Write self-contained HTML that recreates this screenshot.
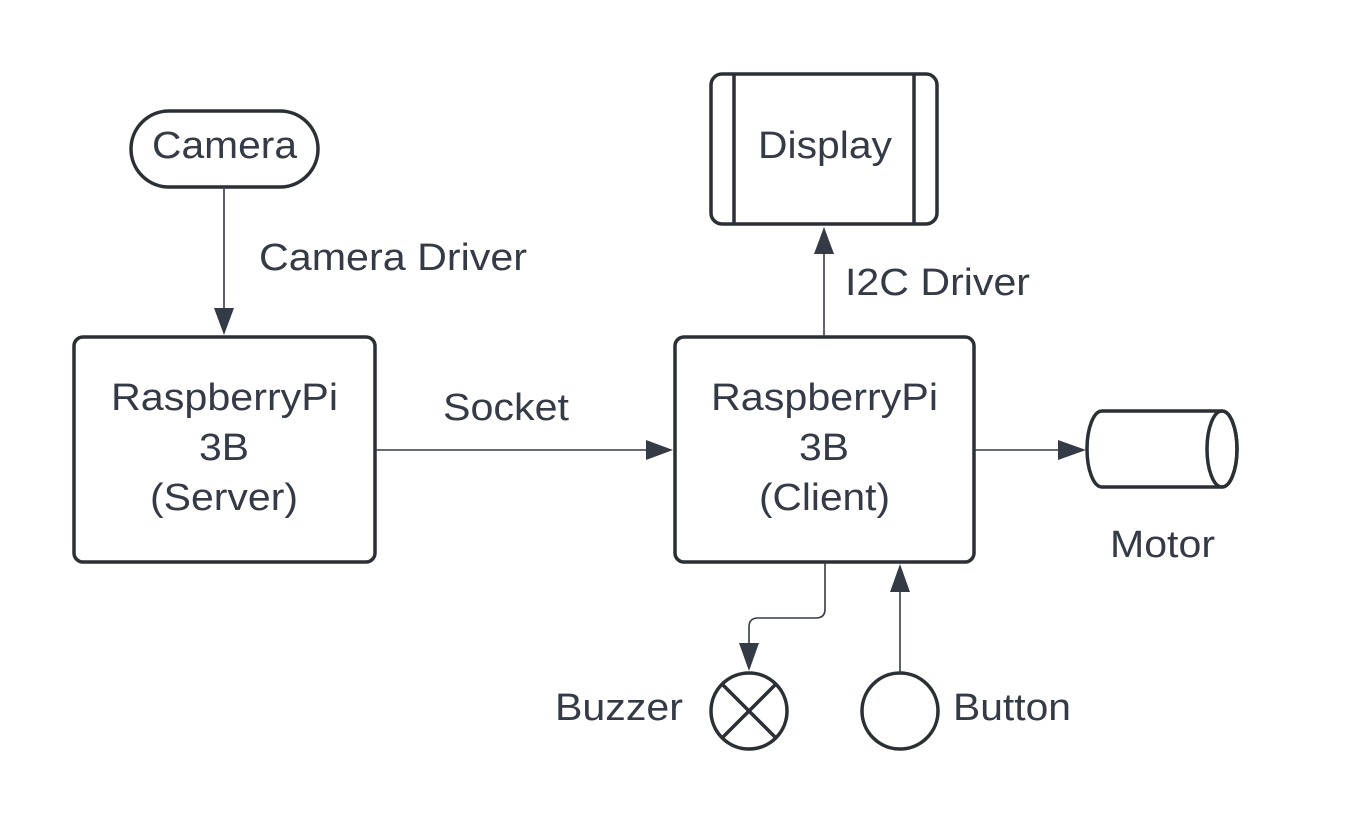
<!DOCTYPE html>
<html><head><meta charset="utf-8"><style>
html,body{margin:0;padding:0;background:#fff;}
svg{display:block;}
text{font-family:"Liberation Sans",sans-serif;font-size:38px;fill:#343a46;}
</style></head><body>
<svg width="1369" height="825" viewBox="0 0 1369 825" xmlns="http://www.w3.org/2000/svg">
<g fill="none" stroke="#2b2f36" stroke-width="3.5">
<rect x="131" y="111" width="187" height="76" rx="38"/>
<rect x="74" y="337" width="301" height="225" rx="9"/>
<rect x="675" y="337" width="299" height="225" rx="9"/>
<rect x="711" y="74" width="226" height="150" rx="11"/>
<line x1="734" y1="74" x2="734" y2="224"/>
<line x1="914" y1="74" x2="914" y2="224"/>
<path d="M1102,411 L1222,411 A15,38 0 0 1 1222,487 L1102,487 A15,38 0 0 1 1102,411 Z"/>
<ellipse cx="1222" cy="449" rx="15" ry="38"/>
<circle cx="749" cy="711" r="38"/>
<line x1="722" y1="684" x2="776" y2="738"/>
<line x1="776" y1="684" x2="722" y2="738"/>
<circle cx="900" cy="711" r="38"/>
</g>
<g fill="none" stroke="#343a46" stroke-width="1.6">
<line x1="224" y1="187" x2="224" y2="310"/>
<line x1="375" y1="450" x2="648" y2="450"/>
<line x1="824" y1="337" x2="824" y2="252"/>
<line x1="974" y1="450" x2="1060" y2="450"/>
<path d="M825,562 L825,609 Q825,618 816,618 L758,618 Q749,618 749,627 L749,645"/>
<line x1="900" y1="673" x2="900" y2="590"/>
</g>
<g fill="#343a46">
<polygon points="214,308 234,308 224,335"/>
<polygon points="646,440 646,460 673,450"/>
<polygon points="814,254 834,254 824,227"/>
<polygon points="1058,440 1058,460 1086,450"/>
<polygon points="739,643 759,643 749,671"/>
<polygon points="890,592 910,592 900,564"/>
</g>
<g>
<text x="152" y="158" textLength="145" lengthAdjust="spacingAndGlyphs">Camera</text>
<text x="259" y="270" textLength="268" lengthAdjust="spacingAndGlyphs">Camera Driver</text>
<text x="111" y="410" textLength="227" lengthAdjust="spacingAndGlyphs">RaspberryPi</text>
<text x="199" y="460" textLength="50" lengthAdjust="spacingAndGlyphs">3B</text>
<text x="150" y="510" textLength="148" lengthAdjust="spacingAndGlyphs">(Server)</text>
<text x="443" y="420" textLength="126" lengthAdjust="spacingAndGlyphs">Socket</text>
<text x="711" y="410" textLength="227" lengthAdjust="spacingAndGlyphs">RaspberryPi</text>
<text x="799" y="460" textLength="50" lengthAdjust="spacingAndGlyphs">3B</text>
<text x="759" y="510" textLength="131" lengthAdjust="spacingAndGlyphs">(Client)</text>
<text x="758" y="158" textLength="134" lengthAdjust="spacingAndGlyphs">Display</text>
<text x="845" y="295" textLength="185" lengthAdjust="spacingAndGlyphs">I2C Driver</text>
<text x="1110" y="557" textLength="105" lengthAdjust="spacingAndGlyphs">Motor</text>
<text x="555" y="720" textLength="128" lengthAdjust="spacingAndGlyphs">Buzzer</text>
<text x="953" y="720" textLength="118" lengthAdjust="spacingAndGlyphs">Button</text>
</g>
</svg>
</body></html>
